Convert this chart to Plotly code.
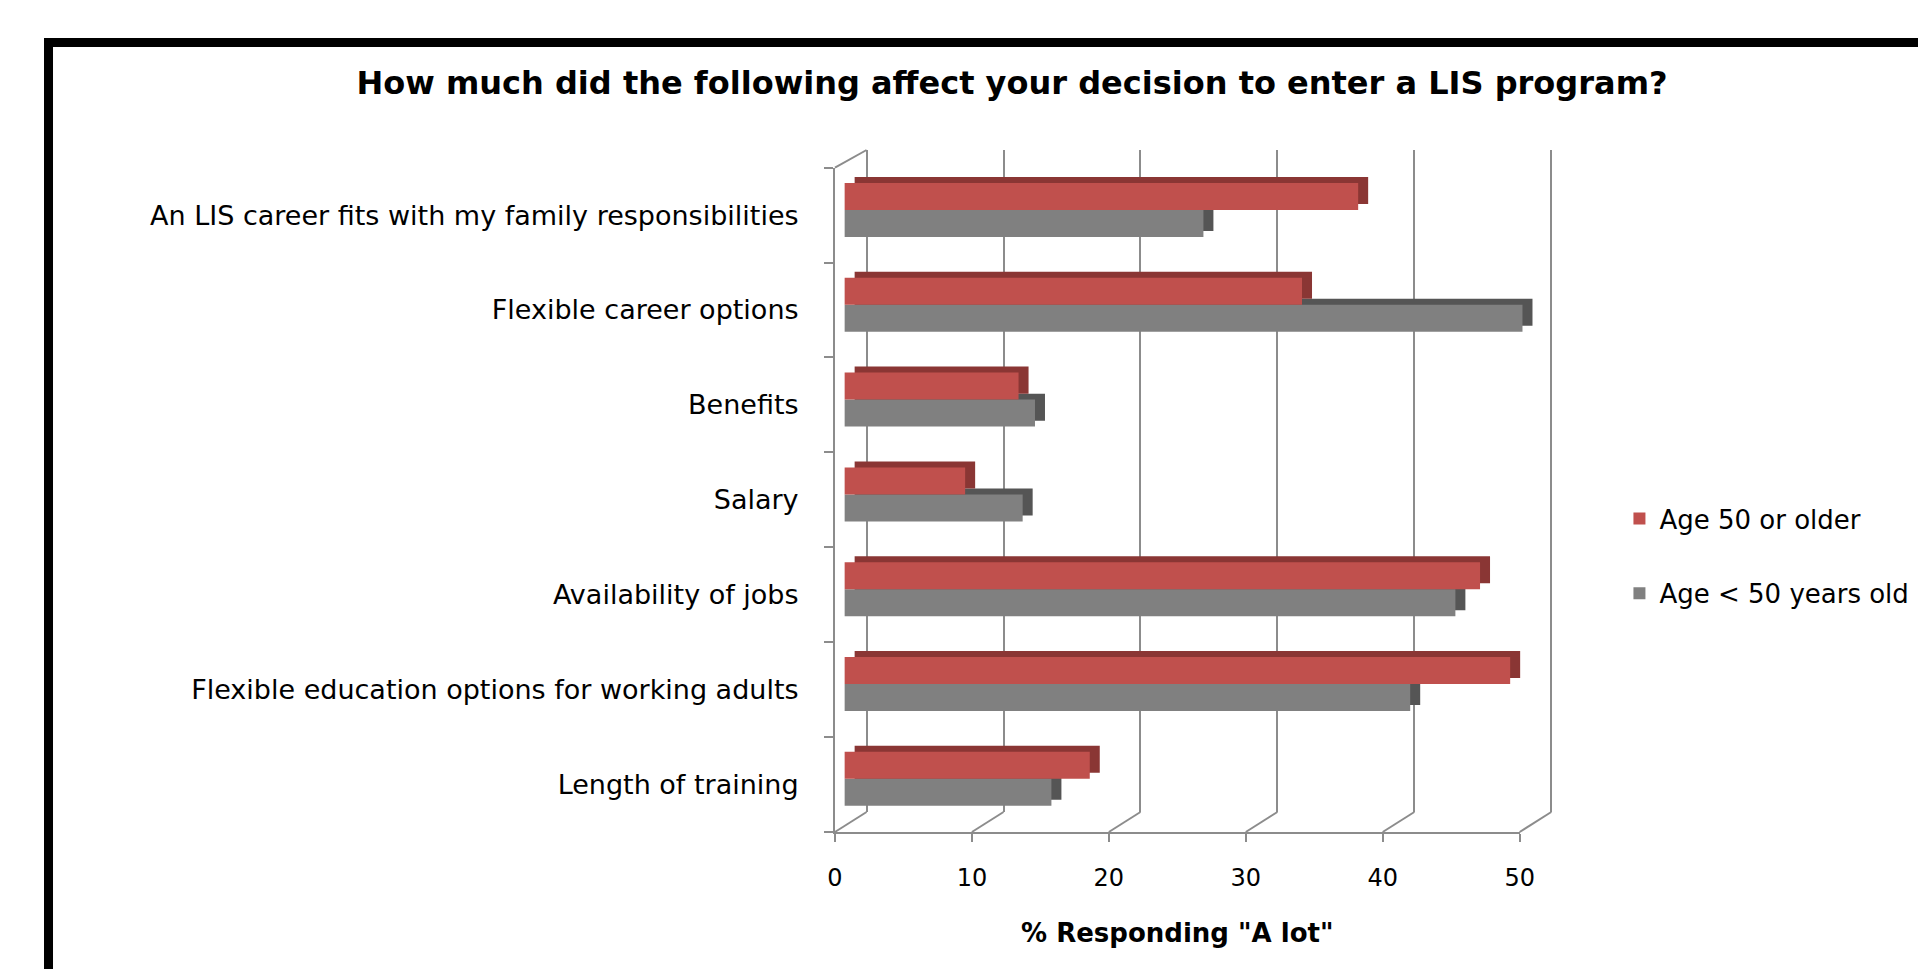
import plotly.graph_objects as go

# ---------------- data ----------------
categories = [
    "An LIS career fits with my family responsibilities",
    "Flexible career options",
    "Benefits",
    "Salary",
    "Availability of jobs",
    "Flexible education options for working adults",
    "Length of training",
]
age_50_plus = [37.5, 33.4, 12.7, 8.8, 46.4, 48.6, 17.9]
age_under_50 = [26.2, 49.5, 13.9, 13.0, 44.6, 41.3, 15.1]
series_names = ["Age 50 or older", "Age < 50 years old"]
x_ticks = [0, 10, 20, 30, 40, 50]
x_title = '% Responding "A lot"'
chart_title = "How much did the following affect your decision to enter a LIS program?"

# ---------------- styling / geometry ----------------
W, H = 1918, 969
K = 13.86            # px per value unit
BAR_X0 = 846.8       # px of value 0 for bars
GRID_X0 = 869.0      # px of value 0 on back wall
FRONT_X0 = 837.0     # px of value 0 on front axis
CAT0_Y = 210.0       # px centre of first bar group
CAT_STEP = 94.8      # px per category
BACK_TOP, BACK_BOTTOM = 150.0, 812.0
FRONT_TOP, FRONT_BOTTOM = 167.6, 832.0
DOM_L, DOM_R = 840.0, 1572.0
BAR_W = 0.285
DEPTH_X = 0.73
DEPTH_Y = 0.063

RED, RED_DARK = "#C0504D", "#8A3634"
GRAY, GRAY_DARK = "#808080", "#555555"
AX = "#8c8c8c"
FONT = "DejaVu Sans"

n = len(categories)

fig = go.Figure()
# back/side faces (3-D depth)
fig.add_trace(go.Bar(y=categories, x=age_under_50, orientation="h", base=DEPTH_X,
                     width=BAR_W, offset=-DEPTH_Y, marker=dict(color=GRAY_DARK, line_width=0),
                     showlegend=False, hoverinfo="skip"))
fig.add_trace(go.Bar(y=categories, x=age_50_plus, orientation="h", base=DEPTH_X,
                     width=BAR_W, offset=-BAR_W - DEPTH_Y, marker=dict(color=RED_DARK, line_width=0),
                     showlegend=False, hoverinfo="skip"))
# front faces
fig.add_trace(go.Bar(y=categories, x=age_under_50, orientation="h", name=series_names[1],
                     width=BAR_W, offset=0, marker=dict(color=GRAY, line_width=0),
                     legendgroup="g2", legendrank=2))
fig.add_trace(go.Bar(y=categories, x=age_50_plus, orientation="h", name=series_names[0],
                     width=BAR_W, offset=-BAR_W, marker=dict(color=RED, line_width=0),
                     legendgroup="g1", legendrank=1))
# dummy traces to register the helper axes
fig.add_trace(go.Scatter(x=[None], y=[None], xaxis="x2", yaxis="y", showlegend=False, hoverinfo="skip"))
fig.add_trace(go.Scatter(x=[None], y=[None], xaxis="x3", yaxis="y3", showlegend=False, hoverinfo="skip"))

shapes = []
# frame
shapes.append(dict(type="rect", xref="paper", yref="paper", x0=41 / W, x1=1.2,
                   y0=-0.2, y1=1 - 42.5 / H, line=dict(color="black", width=9)))
# floor diagonals
for v in x_ticks:
    shapes.append(dict(type="line", xref="paper", yref="paper",
                       x0=(FRONT_X0 + K * v) / W, y0=1 - FRONT_BOTTOM / H,
                       x1=(GRID_X0 + K * v) / W, y1=1 - BACK_BOTTOM / H,
                       line=dict(color=AX, width=2)))
# top-left diagonal
shapes.append(dict(type="line", xref="paper", yref="paper",
                   x0=FRONT_X0 / W, y0=1 - FRONT_TOP / H,
                   x1=GRID_X0 / W, y1=1 - BACK_TOP / H,
                   line=dict(color=AX, width=2)))

fig.update_layout(
    width=W, height=H,
    margin=dict(l=0, r=0, t=0, b=0),
    paper_bgcolor="white", plot_bgcolor="rgba(0,0,0,0)",
    barmode="overlay",
    font=dict(family=FONT, color="black"),
    title=dict(text=chart_title, x=1012 / W, xanchor="center", y=1 - 83 / H, yanchor="middle",
               font=dict(family=FONT, size=32, weight="bold", color="black")),
    showlegend=True,
    legend=dict(x=1631 / W, xanchor="left", y=1 - 495 / H, yanchor="top",
                font=dict(family=FONT, size=26), tracegroupgap=38,
                bgcolor="rgba(0,0,0,0)"),
    shapes=shapes,
    xaxis=dict(domain=[DOM_L / W, DOM_R / W],
               range=[(DOM_L - BAR_X0) / K, (DOM_R - BAR_X0) / K],
               showgrid=False, zeroline=False, showline=False, showticklabels=False, ticks="",
               anchor="y"),
    xaxis2=dict(overlaying="x", anchor="y",
                range=[(DOM_L - GRID_X0) / K, (DOM_R - GRID_X0) / K],
                tickvals=x_ticks, showgrid=True, gridcolor=AX, gridwidth=2,
                zeroline=False, showline=False, showticklabels=False, ticks=""),
    yaxis=dict(domain=[1 - BACK_BOTTOM / H, 1 - BACK_TOP / H], type="category",
               categoryorder="array", categoryarray=categories,
               range=[(BACK_BOTTOM - CAT0_Y) / CAT_STEP, (BACK_TOP - CAT0_Y) / CAT_STEP],
               showgrid=False, zeroline=False, showline=False, showticklabels=False, ticks="",
               anchor="x"),
    xaxis3=dict(domain=[FRONT_X0 / W, (FRONT_X0 + K * x_ticks[-1]) / W],
                range=[x_ticks[0], x_ticks[-1]], anchor="y3",
                tickvals=x_ticks, ticks="outside", ticklen=8, tickwidth=2, tickcolor=AX,
                showline=True, linecolor=AX, linewidth=2, showgrid=False, zeroline=False,
                tickfont=dict(family=FONT, size=24, color="black"), ticklabelstandoff=15,
                title=dict(text=x_title, standoff=33,
                           font=dict(family=FONT, size=26, weight="bold", color="black"))),
    yaxis3=dict(domain=[1 - FRONT_BOTTOM / H, 1 - FRONT_TOP / H],
                range=[n - 0.5, -0.5], anchor="x3",
                tickvals=list(range(n)), ticktext=categories, ticks="", ticklen=0,
                minor=dict(tickvals=[i - 0.5 for i in range(n + 1)], ticks="outside",
                           ticklen=9, tickwidth=2, tickcolor=AX),
                showline=True, linecolor=AX, linewidth=2, showgrid=False, zeroline=False,
                tickfont=dict(family=FONT, size=27, color="black"), ticklabelstandoff=29),
)

fig.write_html("out.html", config={"displayModeBar": False},
               post_script="document.body.style.margin='0';")
